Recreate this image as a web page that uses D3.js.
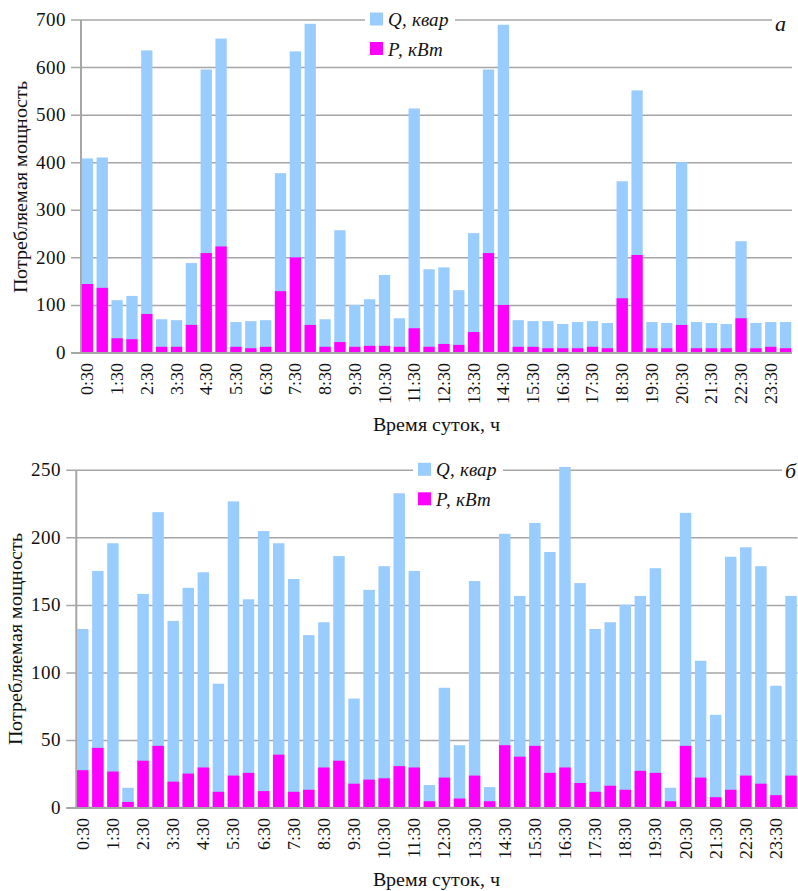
<!DOCTYPE html>
<html>
<head>
<meta charset="utf-8">
<script src="https://cdn.jsdelivr.net/npm/d3@7"></script>
<style>
  @font-face { font-family: "ChartSerif"; src: local("Liberation Serif"), local("LiberationSerif"); font-style: normal; font-weight: normal; }
  @font-face { font-family: "ChartSerif"; src: local("Liberation Serif Italic"), local("LiberationSerif-Italic"); font-style: italic; font-weight: normal; }
  body { margin: 0; background: #fff; }
  svg text { font-family: "ChartSerif", "Liberation Serif", "Times New Roman", serif; }
</style>
</head>
<body>
<svg id="chart" width="798" height="891"></svg>
<script>
//// DATA

// half-hour slots 0:30 ... 24:00
const times = d3.range(1, 49).map(i => Math.floor(i / 2) + ":" + (i % 2 ? "30" : "00"));

// panel а
const qA = [409, 411, 111, 120, 636, 71, 69, 189, 596, 661, 65, 67, 69, 378, 634, 692,
            71, 258, 101, 113, 164, 73, 514, 176, 180, 132, 252, 596, 690, 69, 67, 67,
            61, 65, 67, 63, 361, 552, 65, 63, 401, 65, 63, 61, 235, 63, 65, 65];
const pA = [145, 137, 31, 29, 82, 13, 13, 59, 210, 224, 13, 10, 13, 130, 201, 59,
            13, 23, 13, 15, 15, 13, 52, 13, 19, 17, 44, 210, 101, 13, 13, 10,
            10, 10, 13, 10, 115, 206, 10, 10, 59, 10, 10, 10, 73, 10, 13, 10];

// panel б
const qB = [132.5, 175.5, 196, 15, 158.5, 219, 138.5, 163, 174.5, 92, 227, 154.5, 205, 196, 169.5, 128,
            137.5, 186.5, 81, 161.5, 179, 233, 175.5, 17, 89, 46.5, 168, 15.5, 203, 157, 211, 189.5,
            252.5, 166.5, 132.5, 137.5, 150.5, 157, 177.5, 15, 218.5, 109, 69, 186, 193, 179, 90.5, 157];
const pB = [28, 44.5, 27, 4.5, 35, 46, 19.5, 25.5, 30, 12, 24, 26, 12.5, 39.5, 12, 13.5,
            30, 35, 18, 21, 22, 31, 30, 5, 22.5, 7, 24, 5, 46.5, 38, 46, 26,
            30, 18.5, 12, 16.5, 13.5, 27.5, 26, 5, 46, 22.5, 8, 13.5, 24, 18, 9.5, 24];

const ticksA = [0, 100, 200, 300, 400, 500, 600, 700];
const ticksB = [0, 50, 100, 150, 200, 250];

const seriesNames = ["Q, квар", "P, кВт"];
const colorQ = "#99ccff";
const colorP = "#ff00ff";
const gridColor = "#a6a6a6";

const svg = d3.select("#chart");

drawPanel({
    q: qA, p: pA, ticks: ticksA,
    x0: 81, x1: 792, yTop: 20, yBottom: 353, gridEnd: 772,
    legendX: 365, letter: "а", letterX: 775, letterY: 31,
    titleY: 431, ytitleX: 27, xtitleX: 436
});

drawPanel({
    q: qB, p: pB, ticks: ticksB,
    x0: 76.3, x1: 797.5, yTop: 470.3, yBottom: 808, gridEnd: 782,
    legendX: 413, letter: "б", letterX: 785, letterY: 478,
    titleY: 886, ytitleX: 22, xtitleX: 436
});

function addText(parent, size) {
    return parent.append("text")
        .style("font-size", size + "px")
        .style("fill", "#111");
}

function drawPanel(c) {
    const g = svg.append("g");

    const x = d3.scaleBand()
        .domain(times)
        .range([c.x0, c.x1])
        .paddingInner(0.24)
        .paddingOuter(0.05);

    const y = d3.scaleLinear()
        .domain([0, d3.max(c.ticks)])
        .range([c.yBottom, c.yTop]);

    // gridlines + tick marks
    g.selectAll(".grid")
        .data(c.ticks)
        .enter()
        .append("line")
        .attr("x1", c.x0 - 10)
        .attr("x2", (d, i) => i === c.ticks.length - 1 ? c.gridEnd : c.x1)
        .attr("y1", d => y(d))
        .attr("y2", d => y(d))
        .style("stroke", gridColor)
        .style("stroke-width", "1.5px");

    // y axis line
    g.append("line")
        .attr("x1", c.x0).attr("x2", c.x0)
        .attr("y1", c.yTop).attr("y2", c.yBottom)
        .style("stroke", gridColor)
        .style("stroke-width", "2px");

    // y tick labels
    c.ticks.forEach(function (t) {
        addText(g, 19)
            .attr("x", c.x0 - 15)
            .attr("y", y(t) + 6)
            .attr("text-anchor", "end")
            .text(t);
    });

    // Q bars behind, P bars on top
    g.selectAll(".q")
        .data(c.q)
        .enter()
        .append("rect")
        .attr("x", (d, i) => x(times[i]))
        .attr("width", x.bandwidth())
        .attr("y", d => y(d))
        .attr("height", d => y(0) - y(d))
        .style("fill", colorQ);

    g.selectAll(".p")
        .data(c.p)
        .enter()
        .append("rect")
        .attr("x", (d, i) => x(times[i]))
        .attr("width", x.bandwidth())
        .attr("y", d => y(d))
        .attr("height", d => y(0) - y(d))
        .style("fill", colorP);

    // x baseline
    g.append("line")
        .attr("x1", c.x0 - 10).attr("x2", c.x1)
        .attr("y1", c.yBottom).attr("y2", c.yBottom)
        .style("stroke", gridColor)
        .style("stroke-width", "2px");

    // x tick labels, every other slot
    times.filter((d, i) => i % 2 === 0).forEach(function (d) {
        addText(g, 17.5)
            .attr("transform", "translate(" + (x(d) + x.bandwidth() / 2 + 6) + "," + (c.yBottom + 10) + ") rotate(-90)")
            .attr("text-anchor", "end")
            .text(d);
    });

    // axis titles
    addText(g, 19.5)
        .attr("x", c.xtitleX)
        .attr("y", c.titleY)
        .attr("text-anchor", "middle")
        .text("Время суток, ч");

    addText(g, 19.5)
        .attr("transform", "translate(" + c.ytitleX + "," + ((c.yTop + c.yBottom) / 2) + ") rotate(-90)")
        .attr("text-anchor", "middle")
        .text("Потребляемая мощность");

    // legend
    const leg = g.append("g").attr("transform", "translate(" + c.legendX + "," + c.yTop + ")");
    leg.append("rect")
        .attr("x", 0).attr("y", -3)
        .attr("width", 90).attr("height", 6)
        .style("fill", "#fff");
    [colorQ, colorP].forEach(function (col, i) {
        leg.append("rect")
            .attr("x", 5).attr("y", -7.5 + i * 29.5)
            .attr("width", 13).attr("height", 13)
            .style("fill", col);
        addText(leg, 19)
            .attr("x", 23).attr("y", 6 + i * 29.5)
            .style("font-style", "italic")
            .text(seriesNames[i]);
    });

    addText(g, 22)
        .attr("x", c.letterX)
        .attr("y", c.letterY)
        .style("font-style", "italic")
        .text(c.letter);
}
</script>
</body>
</html>
